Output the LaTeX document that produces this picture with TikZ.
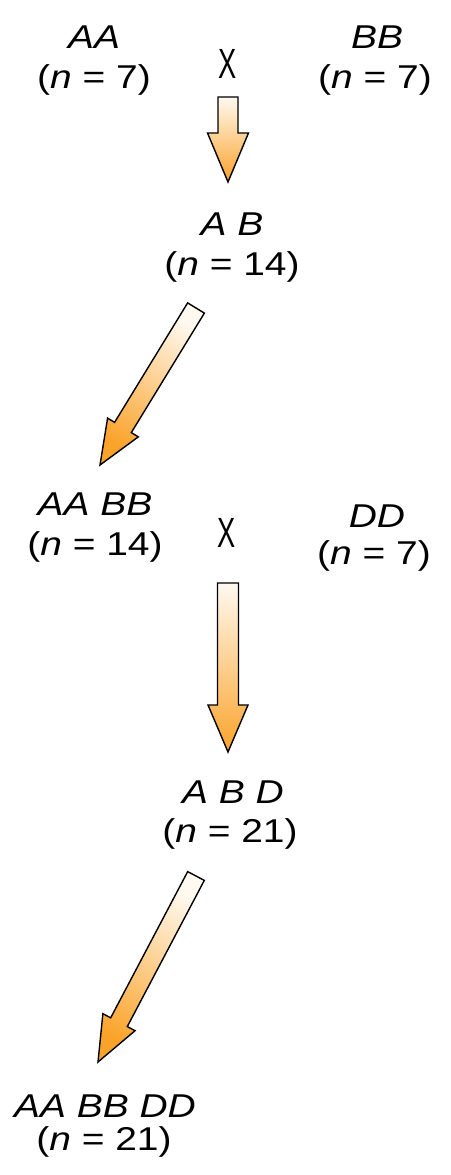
\documentclass[tikz,border=0pt]{standalone}
\usepackage{fontspec}
\setmainfont{Liberation Sans}[FakeStretch=1.18]
\usetikzlibrary{calc}
\definecolor{tailcol}{RGB}{255,249,240}
\definecolor{tipcol}{RGB}{250,163,42}
\newcommand\blockarrow[6]{% tail, tip, shaft half-width, head half-width, head length, shading angle
  \draw[arrowbody, shading angle=#6]
    ($(#1)!#3!90:(#2)$) -- ($($(#2)!#5!(#1)$)!#3!-90:(#1)$)
    -- ($($(#2)!#5!(#1)$)!#4!-90:(#1)$) -- (#2)
    -- ($($(#2)!#5!(#1)$)!#4!90:(#1)$)
    -- ($($(#2)!#5!(#1)$)!#3!90:(#1)$)
    -- ($(#1)!#3!-90:(#2)$) -- cycle;}
\begin{document}
\begin{tikzpicture}[x=1pt,y=-1pt,
  lbl/.style={inner sep=0pt, anchor=base, font=\fontsize{33}{40}\selectfont},
  cross/.style={inner sep=0pt, anchor=base, font=\fontsize{33}{40}\selectfont},
  arrowbody/.style={draw=black, line width=1.4pt, line join=miter, top color=tailcol, bottom color=tipcol}]
\useasboundingbox (0,0) rectangle (450,1175);
% top row
\node[lbl] (aa)  at (94,48)  {\textit{AA}};
\node[lbl] (aan) at (94,88)  {(\textit{n} = 7)};
\node[cross] (x1) at (228,78) {\scalebox{0.7}[1.28]{X}};
\node[lbl] (bb)  at (377,48) {\textit{BB}};
\node[lbl] (bbn) at (375,88) {(\textit{n} = 7)};
% F1
\node[lbl] (ab)  at (232,235) {\textit{A B}};
\node[lbl] (abn) at (232,275) {(\textit{n} = 14)};
% backcross
\node[lbl] (aabb)  at (95,515) {\textit{AA BB}};
\node[lbl] (aabbn) at (95,555) {(\textit{n} = 14)};
\node[cross] (x2) at (227,547) {\scalebox{0.7}[1.28]{X}};
\node[lbl] (dd)  at (377,527) {\textit{DD}};
\node[lbl] (ddn) at (374,564) {(\textit{n} = 7)};
% second hybrid
\node[lbl] (abd)  at (233,803) {\textit{A B D}};
\node[lbl] (abdn) at (230,842) {(\textit{n} = 21)};
% final
\node[lbl] (aabbdd)  at (105,1117) {\textit{AA BB DD}};
\node[lbl] (aabbddn) at (104,1150) {(\textit{n} = 21)};
% arrow coordinates
\coordinate (t1) at (228,97);   \coordinate (h1) at (228,182);
\coordinate (t2) at (196,308);  \coordinate (h2) at (100,465);
\coordinate (t3) at (228,583);  \coordinate (h3) at (228,752);
\coordinate (t4) at (196,876);  \coordinate (h4) at (98,1062);
\blockarrow{t1}{h1}{10pt}{20.5pt}{49pt}{0}
\blockarrow{t2}{h2}{9.8pt}{18pt}{44pt}{-31.4}
\blockarrow{t3}{h3}{10.5pt}{20pt}{47pt}{0}
\blockarrow{t4}{h4}{9.4pt}{18.2pt}{45pt}{-27.8}
\end{tikzpicture}
\end{document}
